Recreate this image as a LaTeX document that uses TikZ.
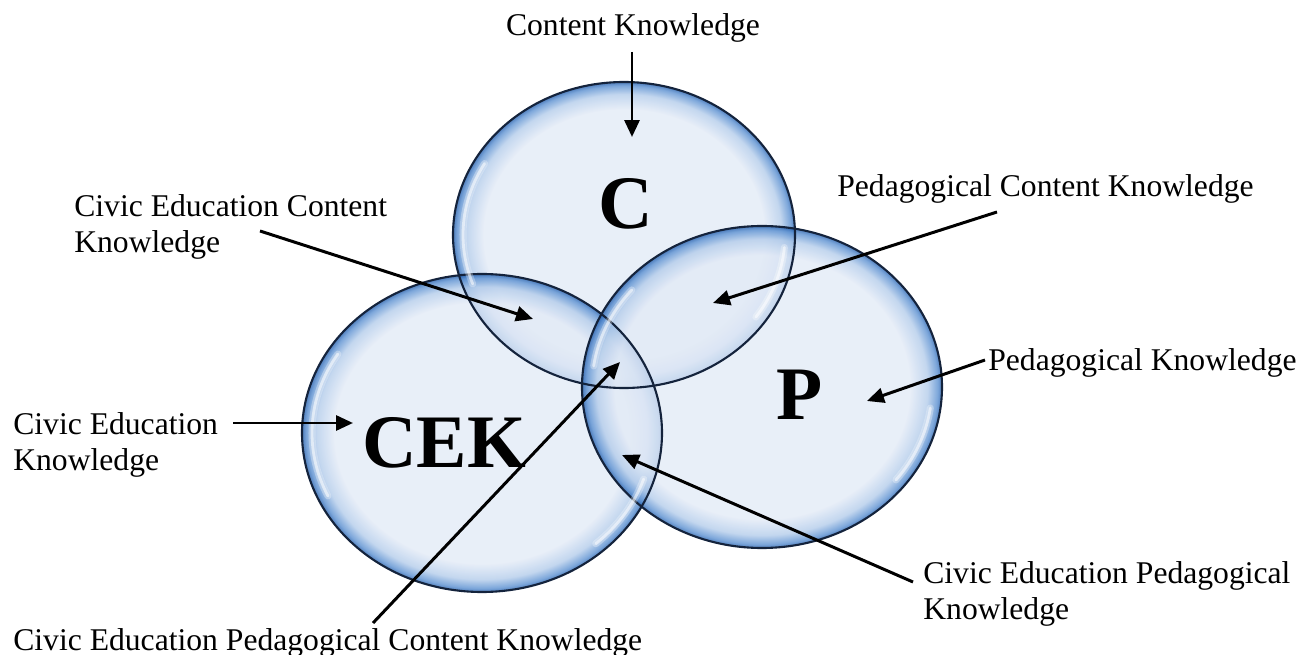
\documentclass[tikz,border=0pt]{standalone}
\usepackage{fontspec}
\setmainfont{Liberation Serif}
\usetikzlibrary{arrows.meta, calc}

\definecolor{bubcore}{RGB}{226,234,246}
\definecolor{bubsoft}{RGB}{178,203,234}
\definecolor{bubrim}{RGB}{88,142,208}
\definecolor{bubdeep}{RGB}{30,90,170}
\definecolor{bubline}{RGB}{20,35,60}
\pgfdeclareradialshading{bubblefill}{\pgfpoint{0bp}{0bp}}{color(0bp)=(bubcore); color(20.5bp)=(bubcore); color(23bp)=(bubsoft); color(24.4bp)=(bubrim); color(25bp)=(bubdeep); color(50bp)=(bubdeep)}

\begin{document}
\begin{tikzpicture}[
    x=0.02cm, y=-0.02cm,
    bub/.style={shading=bubblefill, fill opacity=0.78},
    rim/.style={draw=bubline, line width=1.2pt},
    glint/.style={draw=white, line width=4pt, line cap=round, opacity=0.3,
        postaction={draw=white, line width=1.6pt, opacity=0.55}},
    lbl/.style={inner sep=0pt, align=left, anchor=base west, font=\fontsize{18}{21}\selectfont},
    big/.style={inner sep=0pt, anchor=base, font=\fontsize{43}{50}\selectfont\bfseries},
    arrow/.style={-{Triangle[length=0.34cm, width=0.3cm]}, line width=1.7pt}
]
\useasboundingbox (0,0) rectangle (1303,655);

\coordinate (cc) at (624,235);
\coordinate (pc) at (762,387);
\coordinate (ec) at (482,433);

\shade[bub] (cc) ellipse [x radius=171, y radius=153];
\shade[bub] (ec) ellipse [x radius=180, y radius=159];
\shade[bub] (pc) ellipse [x radius=180, y radius=161];
\draw[rim] (cc) ellipse [x radius=171, y radius=153];
\draw[rim] (ec) ellipse [x radius=180, y radius=159];
\draw[rim] (pc) ellipse [x radius=180, y radius=161];

\draw[glint] (cc) ++(-150:161 and 143) arc[start angle=-150, end angle=-200, x radius=161, y radius=143];
\draw[glint] (cc) ++(5:161 and 143) arc[start angle=5, end angle=35, x radius=161, y radius=143];
\draw[glint] (pc) ++(-140:170 and 151) arc[start angle=-140, end angle=-172, x radius=170, y radius=151];
\draw[glint] (pc) ++(8:170 and 151) arc[start angle=8, end angle=38, x radius=170, y radius=151];
\draw[glint] (ec) ++(-148:170 and 149) arc[start angle=-148, end angle=-205, x radius=170, y radius=149];
\draw[glint] (ec) ++(18:170 and 149) arc[start angle=18, end angle=48, x radius=170, y radius=149];

\node[big] (cl) at (626,229) {C};
\node[big] (pl) at (800,420) {P};
\node[big] (el) at (444,468) {CEK};

\node[lbl, anchor=base] (ck) at (633,36) {Content Knowledge};
\node[lbl] (ceck) at (74,253) {Civic Education Content\\Knowledge};
\node[lbl] (pck) at (837,197) {Pedagogical Content Knowledge};
\node[lbl] (pk) at (988,371) {Pedagogical Knowledge};
\node[lbl] (cek) at (13,471) {Civic Education\\Knowledge};
\node[lbl] (cepk) at (923,620) {Civic Education Pedagogical\\Knowledge};
\node[lbl] (cepck) at (13,650) {Civic Education Pedagogical Content Knowledge};

\coordinate (ck-a) at (632,52);    \coordinate (ck-b) at (632,137);
\coordinate (ceck-a) at (260,231); \coordinate (ceck-b) at (533,319);
\coordinate (pck-a) at (997,212);  \coordinate (pck-b) at (713,303);
\coordinate (pk-a) at (985,360);   \coordinate (pk-b) at (867,401);
\coordinate (cek-a) at (233,423);  \coordinate (cek-b) at (353,423);
\coordinate (cepk-a) at (913,582); \coordinate (cepk-b) at (622,455);
\coordinate (cepck-a) at (373,623); \coordinate (cepck-b) at (620,362);

\draw[arrow] (ck-a) -- (ck-b);
\draw[arrow] (ceck-a) -- (ceck-b);
\draw[arrow] (pck-a) -- (pck-b);
\draw[arrow] (pk-a) -- (pk-b);
\draw[arrow] (cek-a) -- (cek-b);
\draw[arrow] (cepk-a) -- (cepk-b);
\draw[arrow] (cepck-a) -- (cepck-b);
\end{tikzpicture}
\end{document}
